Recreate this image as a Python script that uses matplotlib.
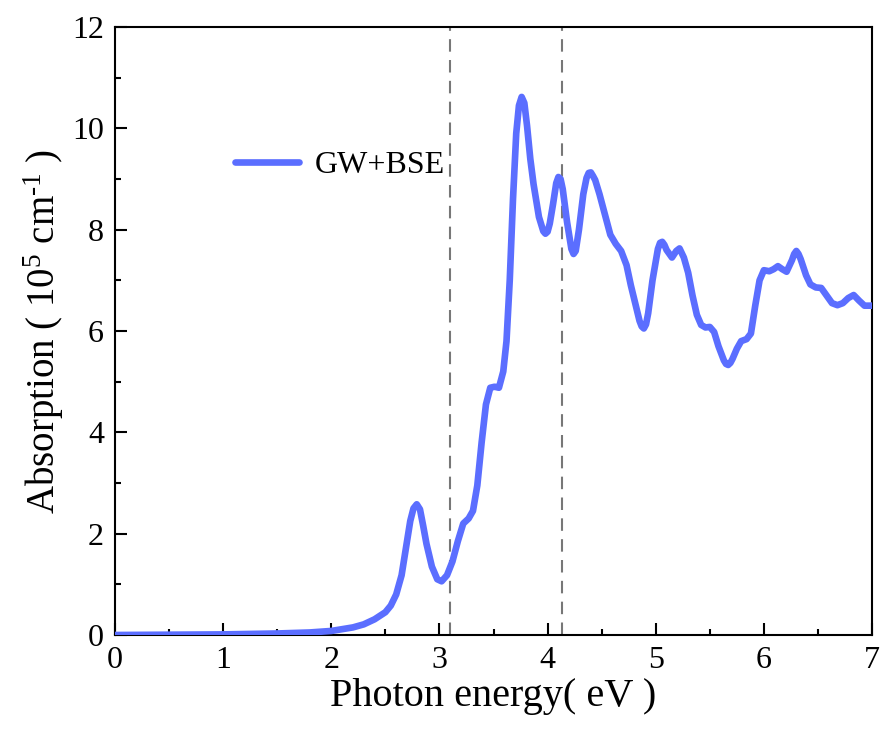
import matplotlib
matplotlib.use("Agg")
import matplotlib.pyplot as plt
from matplotlib.ticker import MultipleLocator

plt.rcParams['font.family'] = ['Liberation Serif', 'DejaVu Serif']
plt.rcParams['mathtext.fontset'] = 'custom'
plt.rcParams['mathtext.rm'] = 'Liberation Serif'
plt.rcParams['mathtext.it'] = 'Liberation Serif:italic'

energy = [0, 0.5, 1.0, 1.5, 1.8, 2.0, 2.2, 2.3, 2.4, 2.5, 2.55, 2.6, 2.65, 2.7, 2.73, 2.76,
          2.79, 2.82, 2.85, 2.88, 2.93, 2.98, 3.02, 3.07, 3.12, 3.17, 3.22, 3.27, 3.31,
          3.35, 3.39, 3.43, 3.47, 3.51, 3.55, 3.59, 3.62, 3.65, 3.68, 3.71, 3.735, 3.76,
          3.785, 3.81, 3.84, 3.87, 3.92, 3.96, 3.98, 4.00, 4.02, 4.05, 4.08, 4.10, 4.12,
          4.14, 4.18, 4.22, 4.24, 4.26, 4.29, 4.33, 4.36, 4.38, 4.40, 4.42, 4.44, 4.48,
          4.53, 4.58, 4.63, 4.68, 4.73, 4.77, 4.81, 4.85, 4.87, 4.89, 4.91, 4.93, 4.97,
          5.02, 5.04, 5.06, 5.08, 5.10, 5.15, 5.19, 5.22, 5.26, 5.30, 5.34, 5.38, 5.42,
          5.46, 5.50, 5.54, 5.58, 5.63, 5.65, 5.67, 5.69, 5.71, 5.75, 5.79, 5.84, 5.88,
          5.92, 5.96, 6.00, 6.05, 6.09, 6.13, 6.17, 6.21, 6.26, 6.28, 6.30, 6.32, 6.34,
          6.39, 6.43, 6.48, 6.53, 6.58, 6.63, 6.68, 6.73, 6.78, 6.83, 6.88, 6.93, 7.0]
absorption = [0.00, 0.005, 0.012, 0.03, 0.05, 0.08, 0.15, 0.21, 0.31, 0.45, 0.58, 0.80,
              1.18, 1.85, 2.25, 2.50, 2.58, 2.48, 2.15, 1.80, 1.35, 1.10, 1.06, 1.18, 1.45,
              1.85, 2.20, 2.30, 2.45, 2.95, 3.80, 4.55, 4.88, 4.90, 4.88, 5.20, 5.80, 7.00,
              8.60, 9.90, 10.45, 10.62, 10.50, 10.05, 9.40, 8.90, 8.25, 7.97, 7.92, 7.96,
              8.12, 8.50, 8.92, 9.04, 9.00, 8.80, 8.15, 7.62, 7.52, 7.58, 8.00, 8.70, 9.02,
              9.12, 9.13, 9.06, 8.98, 8.70, 8.30, 7.90, 7.72, 7.58, 7.30, 6.90, 6.55, 6.20,
              6.09, 6.05, 6.13, 6.35, 7.00, 7.62, 7.74, 7.76, 7.70, 7.60, 7.45, 7.58, 7.63,
              7.45, 7.15, 6.70, 6.32, 6.12, 6.07, 6.08, 5.98, 5.70, 5.42, 5.35, 5.33, 5.37,
              5.45, 5.65, 5.80, 5.84, 5.95, 6.50, 7.00, 7.20, 7.18, 7.22, 7.28, 7.22, 7.17,
              7.40, 7.52, 7.58, 7.52, 7.42, 7.10, 6.92, 6.86, 6.85, 6.70, 6.55, 6.51, 6.55,
              6.65, 6.71, 6.60, 6.50, 6.50]
marker_lines = [3.10, 4.13]
series_label = "GW+BSE"

fig = plt.figure(figsize=(8.82, 7.42), dpi=100)
ax = fig.add_axes([0.1304, 0.1442, 0.8583, 0.8194])

for xv in marker_lines:
    ax.axvline(xv, color='#777777', lw=1.5, ls=(0, (6, 4)), zorder=1)

ax.plot(energy, absorption, color='#5B6EFF', lw=4.8, label=series_label,
        solid_joinstyle='round', solid_capstyle='round', zorder=3)

ax.set_xlim(0, 7)
ax.set_ylim(0, 12)
ax.xaxis.set_major_locator(MultipleLocator(1))
ax.xaxis.set_minor_locator(MultipleLocator(0.5))
ax.yaxis.set_major_locator(MultipleLocator(2))
ax.yaxis.set_minor_locator(MultipleLocator(1))
ax.tick_params(which='both', direction='in', top=False, right=False, width=1.5,
               labelsize=23, pad=8)
ax.tick_params(which='major', length=8.5)
ax.tick_params(which='minor', length=4)
for s in ax.spines.values():
    s.set_linewidth(1.5)

ax.set_xlabel("Photon energy( eV )", fontsize=29, labelpad=2)
ax.set_ylabel("Absorption ( 10$^{5}$ cm$^{\\text{-}1}$ )", fontsize=28, labelpad=4)

ax.legend(loc='center left', bbox_to_anchor=(0.1585, 0.773), frameon=False,
          fontsize=23, handlelength=2.0, borderpad=0, borderaxespad=0, handletextpad=0.5)

fig.savefig("out.png", dpi=100)
